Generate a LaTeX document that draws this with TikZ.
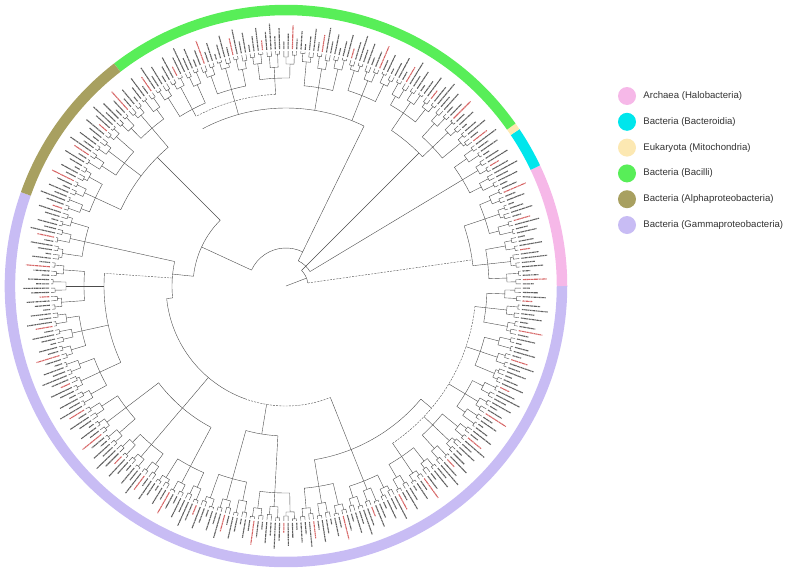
\documentclass[tikz,border=0pt]{standalone}
\usepackage{fontspec}
\setmainfont{Liberation Sans}
\usetikzlibrary{positioning}

\definecolor{halo}{RGB}{246,184,232}
\definecolor{bactero}{RGB}{0,230,236}
\definecolor{mito}{RGB}{252,232,178}
\definecolor{bacilli}{RGB}{88,238,88}
\definecolor{alphap}{RGB}{168,160,96}
\definecolor{gammap}{RGB}{200,188,244}
\definecolor{labgray}{RGB}{95,95,95}
\definecolor{redlab}{RGB}{214,100,100}

\tikzset{
  branch/.style={draw=black!70, line width=0.4pt},
  weak/.style={branch, dash pattern=on 2pt off 1.2pt},
  tiplabel/.style={line width=1.1pt, dash pattern=on 1.6pt off 0.4pt on 0.9pt off 0.5pt on 2.2pt off 0.4pt on 1.2pt off 0.6pt},
  band/.style={line width=10.5pt},
  key/.style={circle, inner sep=0pt, minimum size=18pt},
  keytext/.style={font=\fontsize{9.6}{11}\selectfont, text=black!80, inner sep=0pt},
}

% degrees per leaf slot (348 slots)
\def\slot{1.0344828}
% radial line and node arc of the tree
\newcommand{\twig}[4][branch]{\draw[#1] (#2:#3pt) -- (#2:#4pt);}
\newcommand{\clade}[4][branch]{\draw[#1] (#2:#4pt) arc[start angle=#2, end angle=#3, radius=#4pt];}
% line up to the base of leaf group #1
\newcommand{\tog}[2]{%
  \pgfmathsetmacro\togang{(12*#1+6)*\slot}%
  \pgfmathsetmacro\togrr{200+mod(7*#1+3,11)}%
  \draw[branch] (\togang:#2pt) -- (\togang:\togrr pt);}
% piece of the outer colour ring
\newcommand{\band}[3]{\draw[band,#3] (#1:276pt) arc[start angle=#1, end angle=#2, radius=276pt];}

\begin{document}
\begin{tikzpicture}[x=1pt,y=1pt]
  \useasboundingbox (-286,-288) rectangle (511,286);

  % colour ring
  \band{160.5}{360}{gammap}
  \band{0}{25.4}{halo}
  \band{25.4}{33.9}{bactero}
  \band{33.9}{35.3}{mito}
  \band{35.3}{127.7}{bacilli}
  \band{127.7}{160.5}{alphap}

  % tip labels
  \foreach \i in {0,...,347}{
    \pgfmathsetmacro\tipang{(\i+0.5)*\slot}
    \pgfmathsetmacro\tipend{243+mod(13*\i+5,21)}
    \pgfmathtruncatemacro\isred{mod(11*\i+3,7)==0}
    \ifnum\isred=1 \def\labcol{redlab}\else\def\labcol{labgray}\fi
    \draw[tiplabel,\labcol] (\tipang:237pt) -- (\tipang:\tipend pt);
  }

  % leaf pairs
  \foreach \p in {0,...,173}{
    \pgfmathsetmacro\pairA{(2*\p+0.5)*\slot}
    \pgfmathsetmacro\pairB{(2*\p+1.5)*\slot}
    \pgfmathsetmacro\pairR{229+mod(3*\p+1,5)}
    \draw[branch] (\pairA:235pt) -- (\pairA:\pairR pt)
      arc[start angle=\pairA, end angle=\pairB, radius=\pairR pt] -- (\pairB:235pt);
  }

  % groups of four leaves
  \foreach \k in {0,...,86}{
    \pgfmathsetmacro\quadA{(4*\k+1)*\slot}
    \pgfmathsetmacro\quadB{(4*\k+3)*\slot}
    \pgfmathsetmacro\quadR{219+mod(5*\k+2,8)}
    \pgfmathsetmacro\subA{229+mod(6*\k+1,5)}
    \pgfmathsetmacro\subB{229+mod(6*\k+4,5)}
    \draw[branch] (\quadA:\subA pt) -- (\quadA:\quadR pt)
      arc[start angle=\quadA, end angle=\quadB, radius=\quadR pt] -- (\quadB:\subB pt);
  }

  % groups of twelve leaves
  \foreach \g in {0,...,28}{
    \pgfmathsetmacro\grpA{(12*\g+2)*\slot}
    \pgfmathsetmacro\grpM{(12*\g+6)*\slot}
    \pgfmathsetmacro\grpB{(12*\g+10)*\slot}
    \pgfmathsetmacro\grpR{200+mod(7*\g+3,11)}
    \pgfmathsetmacro\topA{219+mod(15*\g+2,8)}
    \pgfmathsetmacro\topM{219+mod(15*\g+7,8)}
    \pgfmathsetmacro\topB{219+mod(15*\g+12,8)}
    \draw[branch] (\grpA:\topA pt) -- (\grpA:\grpR pt)
      arc[start angle=\grpA, end angle=\grpB, radius=\grpR pt] -- (\grpB:\topB pt);
    \draw[branch] (\grpM:\grpR pt) -- (\grpM:\topM pt);
  }

  % backbone
  \twig{21}{0}{22}
  \clade{8}{45}{22}
  \twig[weak]{8}{22}{188}
  \clade{6.2}{18.6}{188}
  \tog{0}{188} \tog{1}{188}
  \twig{45}{22}{28}
  \clade{31.03}{64}{28}
  \tog{2}{28}
  \twig{45}{28}{188}
  \clade{43.4}{55.9}{188}
  \tog{3}{188} \tog{4}{188}
  \twig{64}{28}{38}
  \clade{64}{155.2}{38}
  \twig{64}{38}{178}
  \clade{64}{117.9}{178}
  \tog{5}{178} \tog{6}{178}
  \twig{105.5}{178}{192}
  \clade[weak]{93.1}{117.9}{192}
  \tog{7}{192} \tog{8}{192} \tog{9}{192}
  \twig{155.2}{38}{93}
  \clade{135}{174}{93}
  \twig{135}{93}{182}
  \clade{130.3}{155.2}{182}
  \tog{10}{182} \tog{11}{182} \tog{12}{182}
  \twig{174}{93}{114}
  \clade{167.6}{186}{114}
  \tog{13}{114}
  \twig[weak]{176}{114}{182}
  \clade{176}{204.8}{182}
  \tog{14}{182} \tog{15}{182} \tog{16}{182}
  \twig{186}{114}{120}
  \clade{186}{250}{120}
  \clade[weak]{250}{291.7}{120}
  \twig{229.7}{120}{160}
  \clade{217.2}{242.1}{160}
  \tog{17}{160} \tog{18}{160} \tog{19}{160}
  \twig{260.7}{120}{150}
  \clade{254.5}{266.9}{150}
  \tog{20}{150} \tog{21}{150}
  \twig{291.7}{120}{176}
  \clade{279.3}{320}{176}
  \tog{22}{176} \tog{23}{176}
  \twig{320}{176}{190}
  \clade[weak]{304.1}{353.8}{190}
  \tog{24}{190} \tog{25}{190} \tog{26}{190} \tog{27}{190} \tog{28}{190}

  % legend
  \foreach \c/\t [count=\i] in {halo/{Archaea (Halobacteria)},
      bactero/{Bacteria (Bacteroidia)},
      mito/{Eukaryota (Mitochondria)},
      bacilli/{Bacteria (Bacilli)},
      alphap/{Bacteria (Alphaproteobacteria)},
      gammap/{Bacteria (Gammaproteobacteria)}}{
    \node[key, fill=\c] (key\i) at (341, 190-25.8*\i+25.8) {};
    \node[keytext, right=7pt of key\i] (name\i) {\t};
  }
\end{tikzpicture}
\end{document}
